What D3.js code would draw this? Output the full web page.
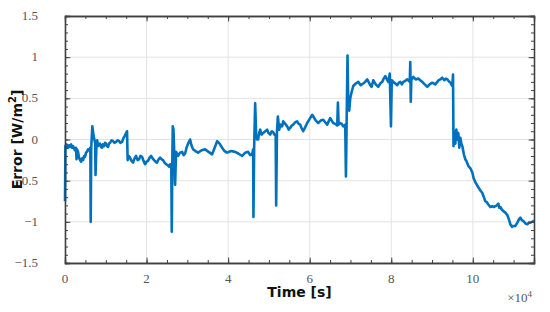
<!DOCTYPE html>
<html><head><meta charset="utf-8">
<script src="https://cdn.jsdelivr.net/npm/d3@7"></script>
<style>body{margin:0;background:#fff}svg{display:block}</style>
</head><body>
<script>
const timeSec = [0,100,400,736,1000,1227,1500,1718,2000,2209,2454,2699,2822,2945,3200,3436,3700,3926,4200,4417,4700,4908,5150,5399,5650,5890,6209,6307,6430,6700,6994,7200,7400,7485,7730,7900,8098,8350,8589,8850,9080,9300,9571,9800,10061,10300,10552,10800,11043,11400,11779,12150,12515,12900,13252,13600,13988,14350,14724,15000,15215,15362,15650,15951,16300,16687,17050,17423,17800,18160,18500,18896,19250,19632,20000,20368,20750,21104,21500,21841,22200,22577,22950,23313,23700,24049,24400,24785,25150,25522,25800,26062,26180,26303,26425,26600,26744,26994,27239,27500,27730,28200,28712,29100,29448,29800,30184,30675,31000,31411,32000,32638,33500,34356,35200,36074,36700,37301,37900,38528,39100,39755,40700,41718,42500,43436,44200,44908,45400,45890,46135,46209,46380,46626,46871,47100,47362,47600,47853,48200,48589,49100,49571,49900,50307,50700,51043,51350,51657,51779,51976,52197,52516,52900,53252,53497,54000,54479,54850,55215,55600,55951,56450,56933,57300,57669,58000,58405,58900,59387,60000,60614,61000,61350,61700,62086,62700,63313,63800,64295,64650,65031,65400,65767,66250,66748,66920,67092,67485,67850,68221,68500,68712,68884,69080,69276,69448,69694,69939,70300,70675,71300,71902,72500,73129,73600,74111,74847,75200,75583,76200,76810,77300,77792,78150,78528,79264,79632,79927,80123,80491,81000,81472,81850,82209,82600,82945,83400,83927,84540,84663,84786,84908,85399,86000,86626,87100,87608,88200,88835,89400,90062,90798,91289,91650,92025,92500,93006,93400,93743,94100,94479,94969,95141,95264,95460,95705,95951,96196,96442,96687,96933,97200,97424,97800,98160,98500,98896,99400,99878,100200,100614,101000,101350,101850,102332,102700,103068,103400,103804,104300,104786,105150,105522,105900,106258,106500,106749,107100,107485,108000,108467,108850,109203,109600,109939,110400,110921,111300,111657,112000,112393,112900,113374,113750,114110,114500,114847,115000];
const errorVal = [-0.75,-0.08,-0.06,-0.1,-0.07,-0.09,-0.06,-0.1,-0.08,-0.11,-0.13,-0.1,-0.24,-0.12,-0.15,-0.22,-0.25,-0.27,-0.23,-0.25,-0.2,-0.21,-0.16,-0.15,-0.12,-0.13,-0.1,-1.0,-0.1,0.16,0.05,0.0,-0.05,-0.43,-0.03,-0.01,-0.08,-0.06,-0.05,-0.09,-0.1,-0.06,-0.08,-0.04,-0.05,-0.08,-0.09,-0.05,-0.04,-0.01,-0.02,-0.04,-0.03,-0.01,-0.02,-0.04,-0.03,0.02,0.05,0.08,0.1,-0.25,-0.2,-0.22,-0.26,-0.28,-0.23,-0.2,-0.25,-0.24,-0.2,-0.21,-0.26,-0.3,-0.27,-0.26,-0.22,-0.2,-0.23,-0.25,-0.27,-0.28,-0.24,-0.22,-0.24,-0.25,-0.28,-0.3,-0.31,-0.33,-0.3,-0.3,-1.12,-0.3,0.16,0.12,-0.1,-0.55,-0.15,-0.18,-0.2,-0.16,-0.15,-0.19,-0.17,-0.1,-0.05,0.0,-0.07,-0.12,-0.14,-0.16,-0.13,-0.12,-0.15,-0.18,-0.1,-0.02,-0.05,-0.1,-0.14,-0.16,-0.14,-0.15,-0.17,-0.2,-0.16,-0.15,-0.19,-0.18,-0.12,-0.94,-0.1,0.44,0.05,0.0,0.0,0.08,0.12,0.06,0.08,0.1,0.12,0.08,0.06,0.1,0.09,0.06,0.05,-0.8,0.1,0.28,0.12,0.18,0.16,0.22,0.19,0.16,0.12,0.14,0.17,0.18,0.21,0.22,0.19,0.18,0.14,0.1,0.15,0.2,0.25,0.3,0.27,0.24,0.22,0.2,0.23,0.24,0.21,0.18,0.22,0.26,0.23,0.2,0.19,0.17,0.45,0.18,0.2,0.19,0.16,0.17,0.18,-0.45,0.3,1.02,0.45,0.35,0.5,0.58,0.65,0.68,0.7,0.66,0.68,0.7,0.73,0.66,0.64,0.72,0.67,0.64,0.68,0.7,0.74,0.77,0.7,0.8,0.16,0.72,0.7,0.68,0.66,0.69,0.7,0.67,0.7,0.71,0.73,0.7,0.94,0.46,0.72,0.76,0.73,0.74,0.72,0.7,0.67,0.64,0.67,0.69,0.67,0.7,0.72,0.73,0.75,0.72,0.74,0.73,0.71,0.69,0.65,0.79,-0.08,0.1,-0.05,0.12,0.0,0.08,-0.1,0.02,-0.05,-0.08,-0.18,-0.24,-0.27,-0.32,-0.35,-0.4,-0.47,-0.52,-0.55,-0.58,-0.62,-0.65,-0.7,-0.75,-0.76,-0.79,-0.82,-0.81,-0.82,-0.81,-0.8,-0.78,-0.83,-0.82,-0.85,-0.87,-0.89,-0.92,-0.97,-1.03,-1.06,-1.05,-1.05,-1.01,-0.97,-0.95,-0.98,-0.99,-1.02,-1.03,-1.01,-1.01,-1.0,-0.99,-1.0];
const xTicks = [0,20000,40000,60000,80000,100000];
const xTickLabels = ["0","2","4","6","8","10"];
const yTicks = [-1.5,-1,-0.5,0,0.5,1,1.5];
const yTickLabels = ["\u22121.5","\u22121","\u22120.5","0","0.5","1","1.5"];

const W=550,H=312;
const m={l:65,r:16,t:16,b:49};
const svg=d3.select("body").append("svg").attr("width",W).attr("height",H);
const x=d3.scaleLinear().domain([0,115000]).range([m.l,W-m.r]);
const y=d3.scaleLinear().domain([-1.5,1.5]).range([H-m.b,m.t]);
const axisCol="#404040", gridCol="#e3e3e3", txtCol="#555";

// grid
svg.append("g").selectAll("line").data(xTicks).join("line")
  .attr("x1",d=>x(d)).attr("x2",d=>x(d)).attr("y1",y(-1.5)).attr("y2",y(1.5))
  .attr("stroke",gridCol).attr("stroke-width",1);
svg.append("g").selectAll("line").data(yTicks).join("line")
  .attr("x1",x(0)).attr("x2",x(115000)).attr("y1",d=>y(d)).attr("y2",d=>y(d))
  .attr("stroke",gridCol).attr("stroke-width",1);

// line
const data=timeSec.map((t,i)=>[t,errorVal[i]]);
svg.append("path").datum(data)
  .attr("fill","none").attr("stroke","#0072BD").attr("stroke-width",2.6)
  .attr("stroke-linejoin","round")
  .attr("d",d3.line().x(d=>x(d[0])).y(d=>y(d[1])));

// axes with inner ticks, mirrored
const xMinor=d3.range(0,115001,5000);
const yMinor=d3.range(-15,16,1).map(v=>v/10);
function addAxis(axisFn, scale, pos, minor, major, inside){
  const g=svg.append("g").attr("transform",pos);
  g.call(axisFn(scale).tickValues(minor).tickSize(inside).tickFormat(""));
  const g2=svg.append("g").attr("transform",pos);
  g2.call(axisFn(scale).tickValues(major).tickSize(inside*1.8).tickFormat(""));
  [g,g2].forEach(gg=>{gg.selectAll("line").attr("stroke",axisCol).attr("stroke-width",1);
    gg.select(".domain").attr("stroke",axisCol).attr("stroke-width",1.3);});
}
addAxis(d3.axisTop,x,`translate(0,${y(-1.5)})`,xMinor,xTicks,3);
addAxis(d3.axisBottom,x,`translate(0,${y(1.5)})`,xMinor,xTicks,3);
addAxis(d3.axisRight,y,`translate(${x(0)},0)`,yMinor,yTicks,3);
addAxis(d3.axisLeft,y,`translate(${x(115000)},0)`,yMinor,yTicks,3);

// tick labels
svg.append("g").selectAll("text").data(xTicks).join("text")
  .attr("x",d=>x(d)).attr("y",y(-1.5)+20).attr("text-anchor","middle")
  .attr("font-family","Liberation Serif, serif").attr("font-size",13).attr("fill",txtCol)
  .text((d,i)=>xTickLabels[i]);
svg.append("g").selectAll("text").data(yTicks).join("text")
  .attr("x",x(0)-27).attr("y",d=>y(d)+4).attr("text-anchor","end")
  .attr("font-family","Liberation Serif, serif").attr("font-size",13).attr("fill",txtCol)
  .text((d,i)=>yTickLabels[i]);
const ex=svg.append("text").attr("x",x(115000)-2).attr("y",H-10).attr("text-anchor","end")
  .attr("font-family","Liberation Serif, serif").attr("font-size",13).attr("fill",txtCol);
ex.append("tspan").text("\u00d710");
ex.append("tspan").attr("font-size",9).attr("dy",-5).text("4");

// axis labels
svg.append("text").attr("x",(x(0)+x(115000))/2).attr("y",y(-1.5)+34).attr("text-anchor","middle")
  .attr("font-family","DejaVu Sans, sans-serif").attr("font-weight","bold").attr("font-size",14).attr("fill","#111")
  .text("Time [s]");
const yl=svg.append("text").attr("transform",`translate(22,${(y(-1.5)+y(1.5))/2}) rotate(-90)`)
  .attr("text-anchor","middle")
  .attr("font-family","DejaVu Sans, sans-serif").attr("font-weight","bold").attr("font-size",14).attr("fill","#111");
yl.append("tspan").text("Error [W/m");
yl.append("tspan").attr("font-size",10).attr("dy",-6).text("2");
yl.append("tspan").attr("dy",6).text("]");
</script>
</body></html>
